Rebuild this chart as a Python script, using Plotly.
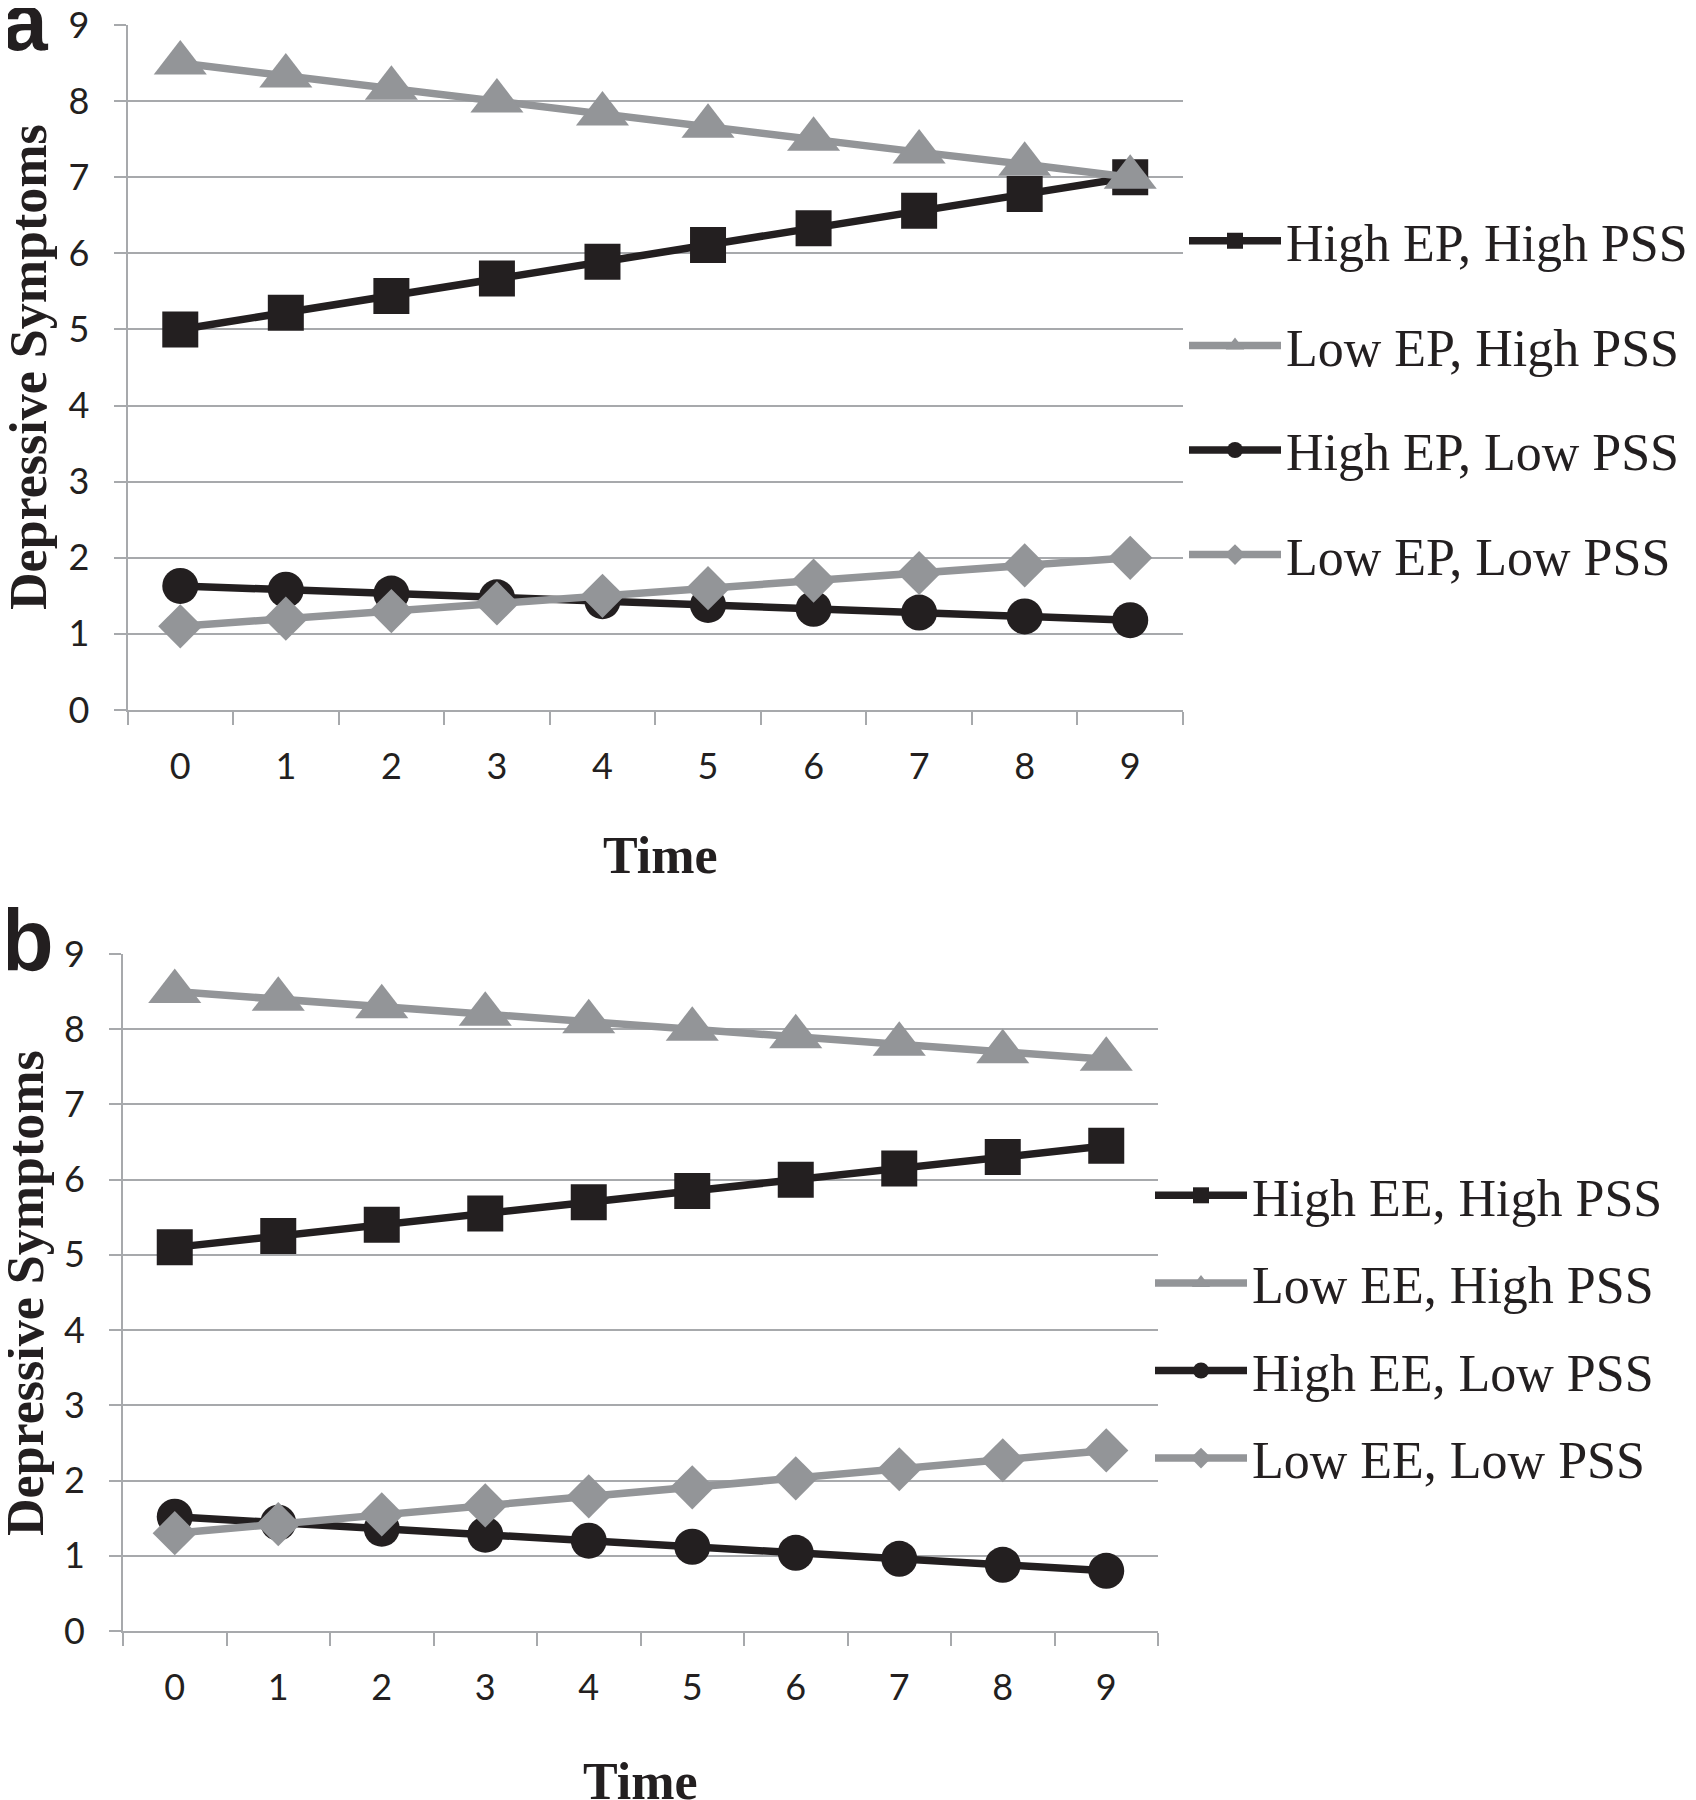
import plotly.graph_objects as go

W, H = 1696, 1800
OFF = 8  # page body margin of the rendered html page

# ---------------- data ----------------
time_labels = ["0", "1", "2", "3", "4", "5", "6", "7", "8", "9"]
y_tick_vals = [0, 1, 2, 3, 4, 5, 6, 7, 8, 9]

names_a = ["High EP, High PSS", "Low EP, High PSS", "High EP, Low PSS", "Low EP, Low PSS"]
a_high_ep_high_pss = [5.0, 5.22, 5.44, 5.67, 5.89, 6.11, 6.33, 6.56, 6.78, 7.0]
a_low_ep_high_pss = [8.5, 8.33, 8.17, 8.0, 7.83, 7.67, 7.5, 7.33, 7.17, 7.0]
a_high_ep_low_pss = [1.63, 1.58, 1.53, 1.48, 1.43, 1.38, 1.33, 1.28, 1.23, 1.18]
a_low_ep_low_pss = [1.1, 1.2, 1.3, 1.4, 1.5, 1.6, 1.7, 1.8, 1.9, 2.0]

names_b = ["High EE, High PSS", "Low EE, High PSS", "High EE, Low PSS", "Low EE, Low PSS"]
b_high_ee_high_pss = [5.1, 5.25, 5.4, 5.55, 5.7, 5.85, 6.0, 6.15, 6.3, 6.45]
b_low_ee_high_pss = [8.5, 8.4, 8.3, 8.2, 8.1, 8.0, 7.9, 7.8, 7.7, 7.6]
b_high_ee_low_pss = [1.52, 1.44, 1.36, 1.28, 1.2, 1.12, 1.04, 0.96, 0.88, 0.8]
b_low_ee_low_pss = [1.3, 1.42, 1.55, 1.67, 1.79, 1.91, 2.03, 2.15, 2.27, 2.4]

# ---------------- styles ----------------
BLACK = "#231f20"
GREY = "#939598"
GRID = "#a7a9ac"
SERIF = "Liberation Serif, Times New Roman, serif"
SANS = "Lato, Carlito, Calibri, sans-serif"
BOLD_SANS = "Liberation Sans, Arial, sans-serif"

styles = [
    dict(color=BLACK, symbol="square", size=36),
    dict(color=GREY, symbol="triangle-up", size=46),
    dict(color=BLACK, symbol="circle", size=36),
    dict(color=GREY, symbol="diamond", size=34),
]


def px_x(p):
    return (p - OFF) / W


def px_y(p):
    return 1 - (p - OFF) / H


fig = go.Figure()

series_a = [a_high_ep_high_pss, a_low_ep_high_pss, a_high_ep_low_pss, a_low_ep_low_pss]
series_b = [b_high_ee_high_pss, b_low_ee_high_pss, b_high_ee_low_pss, b_low_ee_low_pss]

for i, (nm, vals) in enumerate(zip(names_a, series_a)):
    st = styles[i]
    fig.add_trace(go.Scatter(
        x=time_labels, y=vals, name=nm, mode="lines+markers",
        line=dict(color=st["color"], width=7.5),
        marker=dict(color=st["color"], symbol=st["symbol"], size=st["size"], line=dict(width=0)),
        xaxis="x", yaxis="y", legend="legend", legendgroup="a%d" % i,
    ))

for i, (nm, vals) in enumerate(zip(names_b, series_b)):
    st = styles[i]
    fig.add_trace(go.Scatter(
        x=time_labels, y=vals, name=nm, mode="lines+markers",
        line=dict(color=st["color"], width=7.5),
        marker=dict(color=st["color"], symbol=st["symbol"], size=st["size"], line=dict(width=0)),
        xaxis="x2", yaxis="y2", legend="legend2", legendgroup="b%d" % i,
    ))


def xaxis_cfg(x0, x1, anchor):
    return dict(
        domain=[px_x(x0), px_x(x1)], anchor=anchor, type="category",
        categoryorder="array", categoryarray=time_labels,
        range=[-0.5, 9.5], showgrid=False, zeroline=False,
        showline=True, linecolor=GRID, linewidth=2,
        ticks="outside", tickson="boundaries", ticklen=13, tickwidth=2, tickcolor=GRID,
        tickfont=dict(family=SANS, size=36, color=BLACK), ticklabelstandoff=24,
        ticklabeloverflow="allow", fixedrange=True, automargin=False,
    )


def yaxis_cfg(y_top, y_bot, anchor):
    return dict(
        domain=[px_y(y_bot), px_y(y_top)], anchor=anchor,
        range=[0, 9], tickmode="array", tickvals=y_tick_vals,
        showgrid=True, gridcolor=GRID, gridwidth=2, zeroline=False,
        showline=True, linecolor=GRID, linewidth=2,
        ticks="outside", ticklen=12, tickwidth=2, tickcolor=GRID,
        tickfont=dict(family=SANS, size=36, color=BLACK), ticklabelstandoff=17,
        ticklabeloverflow="allow", fixedrange=True, automargin=False,
    )


legend_common = dict(
    xanchor="left", yanchor="middle", traceorder="grouped",
    font=dict(family=SERIF, size=52, color=BLACK),
    bgcolor="rgba(0,0,0,0)", borderwidth=0, itemwidth=92,
)

fig.update_layout(
    width=W, height=H, autosize=False,
    margin=dict(l=0, r=0, t=0, b=0, pad=0, autoexpand=False),
    paper_bgcolor="white", plot_bgcolor="white",
    showlegend=True,
    xaxis=xaxis_cfg(127.5, 1183, "y"),
    yaxis=yaxis_cfg(25, 710, "x"),
    xaxis2=xaxis_cfg(123, 1158, "y2"),
    yaxis2=yaxis_cfg(954, 1631, "x2"),
    legend=dict(x=px_x(1184), y=px_y(398), tracegroupgap=34, **legend_common),
    legend2=dict(x=px_x(1150), y=px_y(1327), tracegroupgap=17, **legend_common),
)

annotations = [
    dict(text="<b>a</b>", x=px_x(0), y=px_y(22), xanchor="left", yanchor="middle",
         font=dict(family=BOLD_SANS, size=82, color=BLACK)),
    dict(text="<b>b</b>", x=px_x(-2), y=px_y(939), xanchor="left", yanchor="middle",
         font=dict(family=BOLD_SANS, size=88, color=BLACK)),
    dict(text="<b>Depressive Symptoms</b>", x=px_x(29), y=px_y(367), textangle=-90,
         xanchor="center", yanchor="middle", font=dict(family=SERIF, size=52, color=BLACK)),
    dict(text="<b>Depressive Symptoms</b>", x=px_x(25), y=px_y(1293), textangle=-90,
         xanchor="center", yanchor="middle", font=dict(family=SERIF, size=52, color=BLACK)),
    dict(text="<b>Time</b>", x=px_x(660), y=px_y(855), xanchor="center", yanchor="middle",
         font=dict(family=SERIF, size=52, color=BLACK)),
    dict(text="<b>Time</b>", x=px_x(640), y=px_y(1781), xanchor="center", yanchor="middle",
         font=dict(family=SERIF, size=52, color=BLACK)),
]
for a in annotations:
    a.update(xref="paper", yref="paper", showarrow=False)
fig.update_layout(annotations=annotations)

fig.write_html("out.html")
